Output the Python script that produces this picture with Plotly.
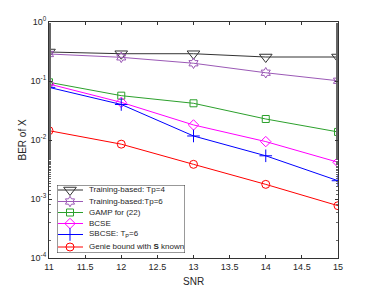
import plotly.graph_objects as go

snr = [11, 12, 13, 14, 15]
train_tp4 = [0.31, 0.29, 0.29, 0.255, 0.255]
train_tp6 = [0.287, 0.252, 0.20, 0.138, 0.101]
gamp = [0.095, 0.0564, 0.0419, 0.0227, 0.0137]
bcse = [0.089, 0.0435, 0.0180, 0.0094, 0.0042]
sbcse = [0.078, 0.040, 0.0117, 0.0054, 0.00204]
genie = [0.0144, 0.0085, 0.00387, 0.00177, 0.00077]

names = ["Training-based: Tp=4", "Training-based:Tp=6", "GAMP for (22)", "BCSE",
         "SBCSE: T<sub>P</sub>=6", "Genie bound with <b>S</b> known"]
series = [train_tp4, train_tp6, gamp, bcse, sbcse, genie]
colors = ["#333333", "#9b59b6", "#2ca02c", "#ff00ff", "#0000ff", "#ff0000"]
symbols = ["triangle-down-open", "hexagram-open", "square-open", "diamond-open",
           "cross-thin-open", "circle-open"]
sizes = [11, 8, 7, 8, 9, 8]

xticks = [11, 11.5, 12, 12.5, 13, 13.5, 14, 14.5, 15]
yticks = [1e-4, 1e-3, 1e-2, 1e-1, 1]
yticktext = ["10<sup>-4</sup>", "10<sup>-3</sup>", "10<sup>-2</sup>", "10<sup>-1</sup>", "10<sup>0</sup>"]
xtitle = "SNR"
ytitle = "BER of X"

# custom legend layout (box-local pixel units)
leg_rows = [5, 16.5, 27.5, 38.5, 49.5, 62]
leg_line = [1, 26]
leg_mark = 13
leg_text = 30
leg_w, leg_h = 128, 68

fig = go.Figure()
for n, s, c, m, sz in zip(names, series, colors, symbols, sizes):
    fig.add_trace(go.Scatter(x=snr, y=s, name=n, mode="lines+markers",
                             line=dict(color=c, width=1), showlegend=False,
                             marker=dict(symbol=m, size=sz, color=c,
                                         line=dict(color=c, width=1))))

# legend box
fig.add_shape(type="rect", xref="x2", yref="y2", x0=0, x1=leg_w, y0=0, y1=leg_h,
              fillcolor="white", line=dict(color="#333333", width=1), layer="below")
for n, c, m, sz, r in zip(names, colors, symbols, sizes, leg_rows):
    fig.add_trace(go.Scatter(x=leg_line, y=[r, r], mode="lines", xaxis="x2", yaxis="y2",
                             line=dict(color=c, width=1), showlegend=False, hoverinfo="skip"))
    fig.add_trace(go.Scatter(x=[leg_mark], y=[r], mode="markers", xaxis="x2", yaxis="y2",
                             marker=dict(symbol=m, size=sz, color=c, line=dict(color=c, width=1)),
                             showlegend=False, hoverinfo="skip"))
    fig.add_annotation(x=leg_text, y=r, xref="x2", yref="y2", text=n, showarrow=False,
                       xanchor="left", yanchor="middle", font=dict(size=8, color="#262626"))

# page body has an 8px margin; the figure is shifted accordingly
OFF = 8
W, H = 374 - OFF, 291 - OFF
L, T = 49 - OFF, 22 - OFF
R = W - (338 - OFF)
B = H - (258 - OFF)
pw, ph = W - L - R, H - T - B
lx0 = (57 - 49) / pw
ly1 = (258 - 185) / ph

# axis titles as annotations (page pixel positions converted to paper fractions)
fig.add_annotation(x=(21.5 - 49) / pw, y=0.5, xref="paper", yref="paper", text=ytitle,
                   textangle=-90, showarrow=False, xanchor="center", yanchor="middle",
                   font=dict(size=10, color="#262626"))
fig.add_annotation(x=0.5, y=-(281.5 - 258) / ph, xref="paper", yref="paper", text=xtitle,
                   showarrow=False, xanchor="center", yanchor="middle",
                   font=dict(size=10, color="#262626"))

axis_common = dict(ticks="inside", ticklen=3, tickcolor="#333333", automargin=False,
                   showline=True, linecolor="#333333", linewidth=1, mirror="ticks",
                   showgrid=False, zeroline=False)

fig.update_layout(
    width=W, height=H,
    margin=dict(l=L, r=R, t=T, b=B, autoexpand=False),
    paper_bgcolor="white", plot_bgcolor="white",
    font=dict(family="Liberation Sans, Arial, sans-serif", size=9, color="#262626"),
    showlegend=False,
    xaxis=dict(range=[11, 15], tickvals=xticks, ticktext=[str(v) for v in xticks],
               **axis_common),
    yaxis=dict(type="log", range=[-4, 0], tickvals=yticks, ticktext=yticktext,
               minor=dict(ticks="inside", ticklen=2, tickcolor="#666666", showgrid=False),
               **axis_common),
    xaxis2=dict(domain=[lx0, lx0 + leg_w / pw], range=[0, leg_w], anchor="y2",
                visible=False, fixedrange=True),
    yaxis2=dict(domain=[ly1 - leg_h / ph, ly1], range=[leg_h, 0], anchor="x2",
                visible=False, fixedrange=True),
)

fig.write_html("out.html")
